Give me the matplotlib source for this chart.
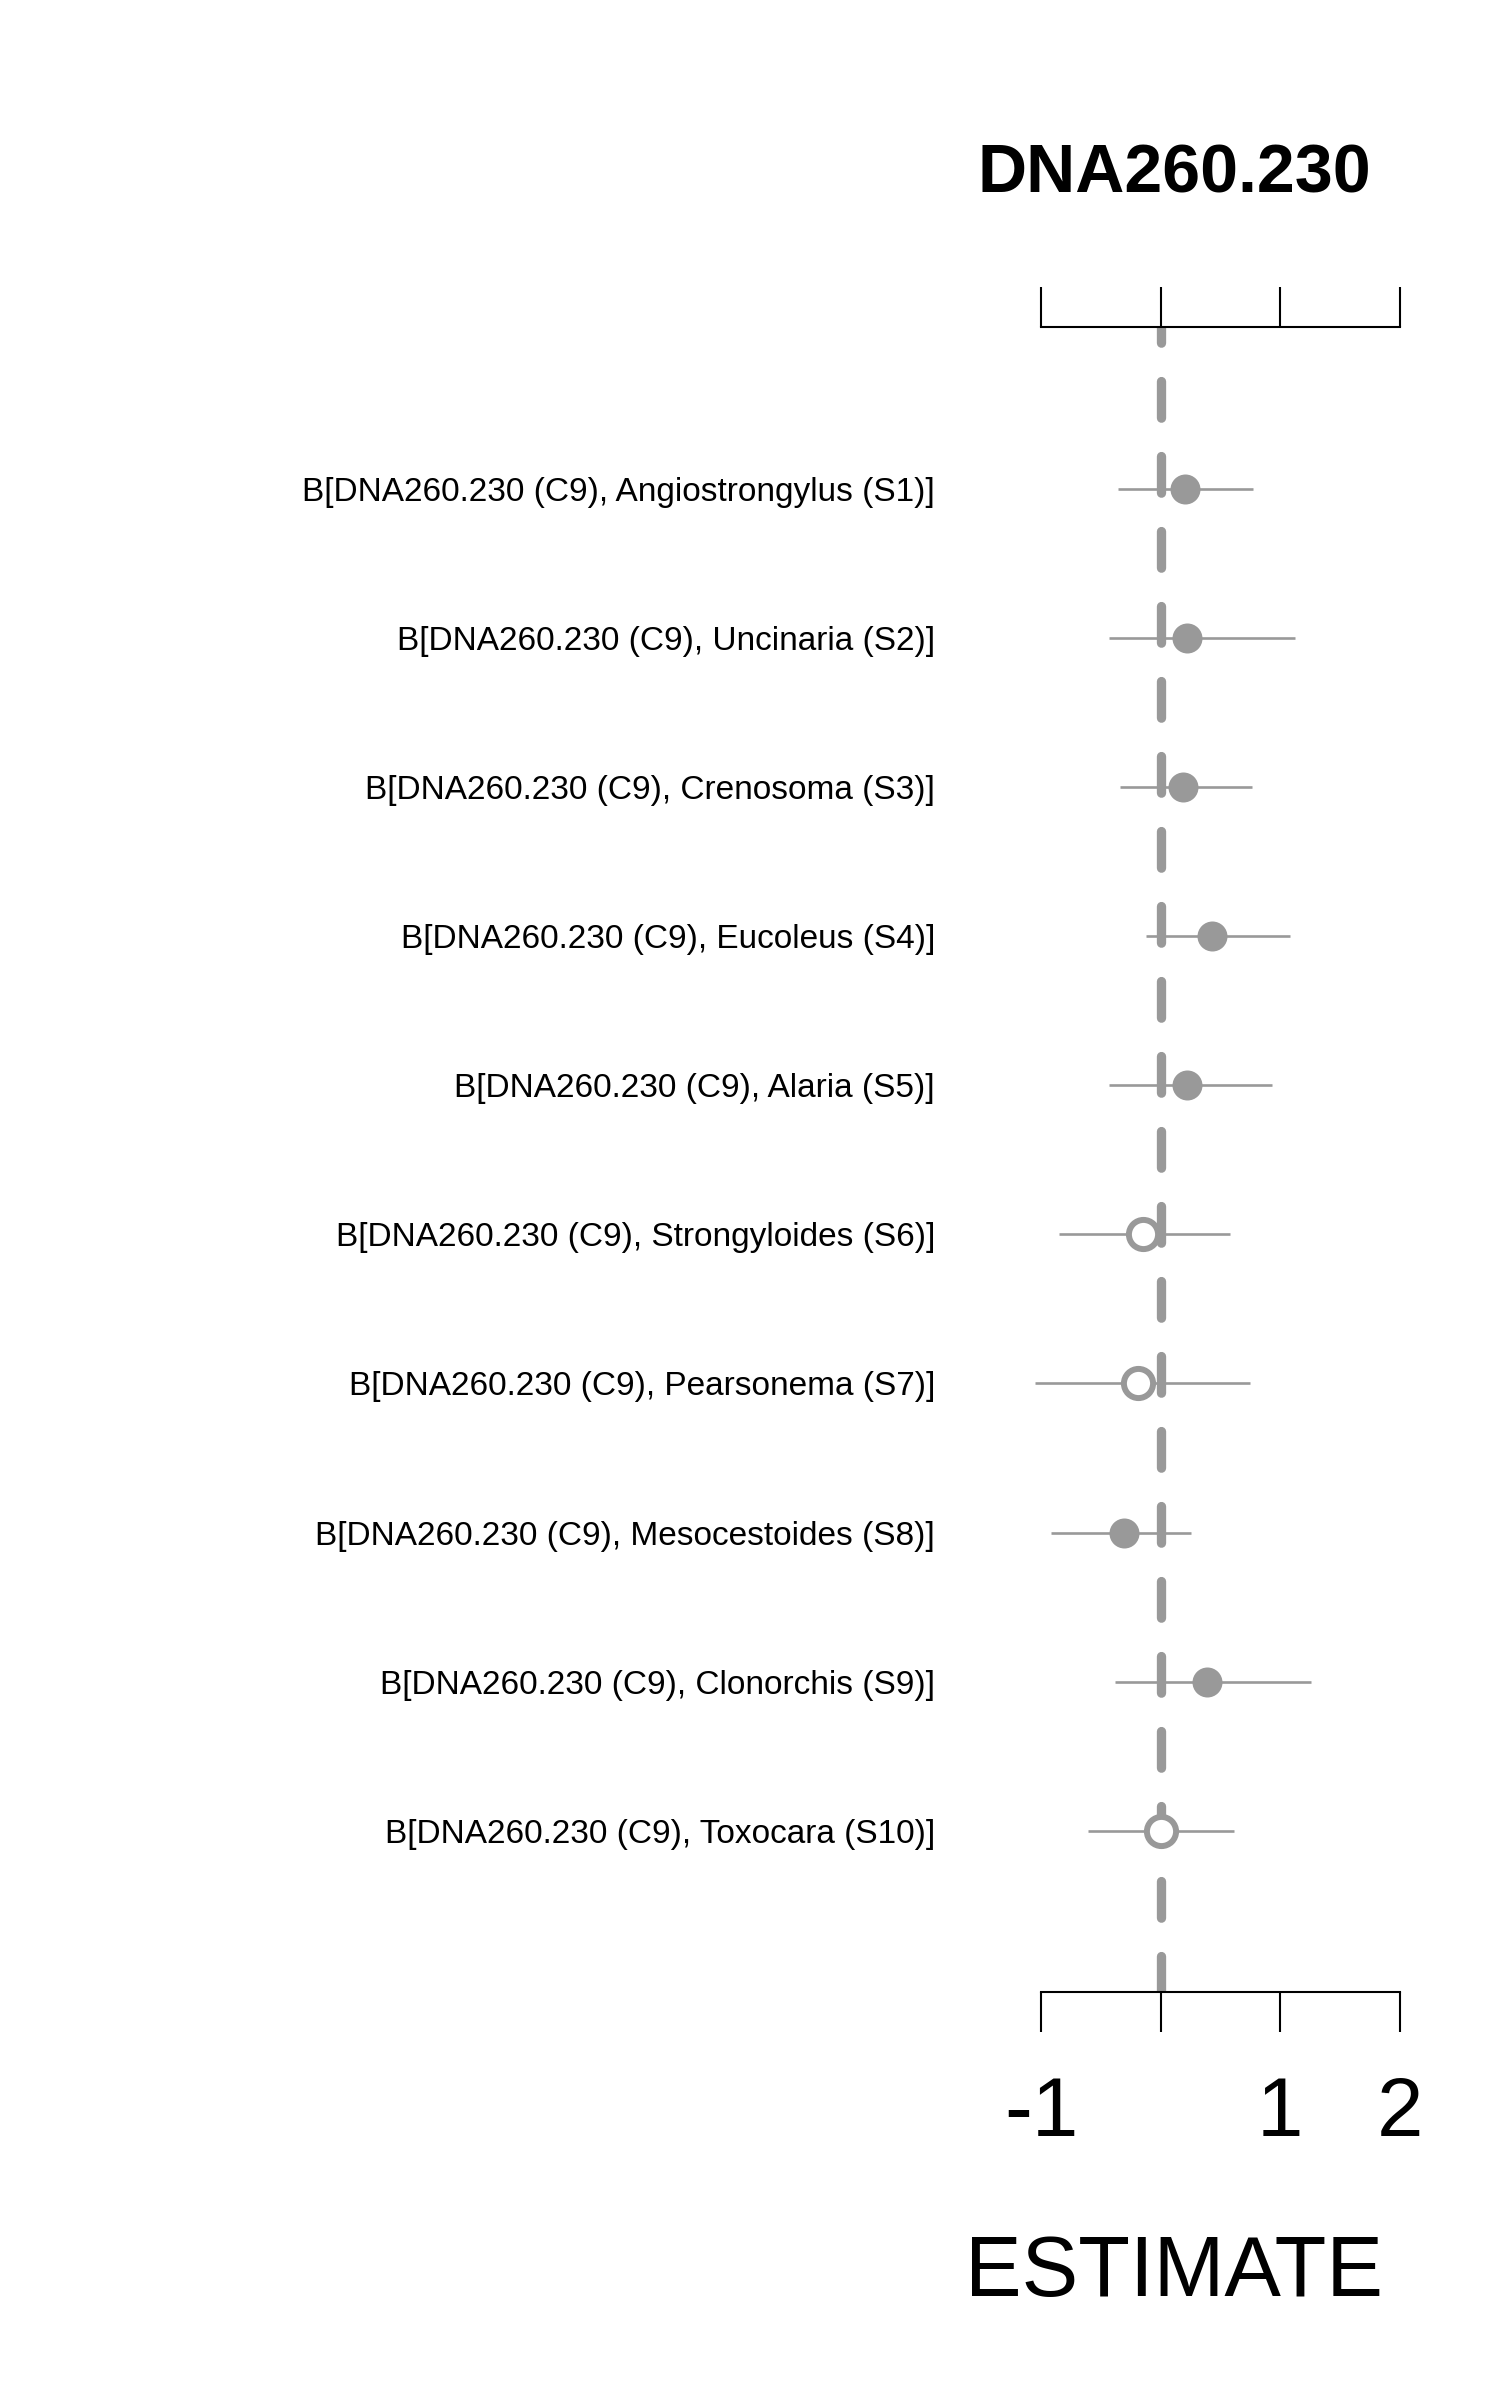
import matplotlib
matplotlib.use("Agg")
import matplotlib.pyplot as plt

# %%

# coefficient estimates for DNA260.230 (C9) on each species

species = [
    "Angiostrongylus (S1)",
    "Uncinaria (S2)",
    "Crenosoma (S3)",
    "Eucoleus (S4)",
    "Alaria (S5)",
    "Strongyloides (S6)",
    "Pearsonema (S7)",
    "Mesocestoides (S8)",
    "Clonorchis (S9)",
    "Toxocara (S10)",
]
labels = [f"B[DNA260.230 (C9), {s}]" for s in species]

estimate = [0.20, 0.22, 0.19, 0.43, 0.22, -0.15, -0.19, -0.31, 0.39, 0.00]
lower = [-0.36, -0.43, -0.34, -0.12, -0.43, -0.85, -1.05, -0.92, -0.38, -0.61]
upper = [0.77, 1.12, 0.76, 1.08, 0.93, 0.58, 0.75, 0.25, 1.26, 0.61]
filled = [True, True, True, True, True, False, False, True, True, False]

x_ticks = [-1, 0, 1, 2]
x_tick_labels = ["-1", "", "1", "2"]

title = "DNA260.230"
x_label = "ESTIMATE"

# %%

plt.rcParams["font.family"] = ["Liberation Sans", "DejaVu Sans"]
plt.rcParams["lines.scale_dashes"] = False

grey = "#999999"
rows = list(range(1, len(labels) + 1))

fig = plt.figure(figsize=(15, 24), dpi=100)
ax = fig.add_axes([0.68602, 0.17013, 0.25528, 0.69375])

# zero reference line
ax.plot(
    [0, 0],
    [-0.089, 11.08],
    color=grey,
    linewidth=6.7,
    linestyle=(15.1, (26.4, 27.6)),
    dash_capstyle="round",
    zorder=1,
)

ax.hlines(rows, lower, upper, color=grey, linewidth=1.9, zorder=2)

for y, est, full in zip(rows, estimate, filled):
    if full:
        ax.plot(est, y, "o", color=grey, markersize=21.6, markeredgewidth=0, zorder=3)
    else:
        ax.plot(
            est,
            y,
            "o",
            markerfacecolor="white",
            markeredgecolor=grey,
            markersize=21,
            markeredgewidth=4.3,
            zorder=3,
        )

ax.set_xlim(-1.1, 2.1)
ax.set_ylim(11.08, -0.089)

ax.set_xticks(x_ticks, x_tick_labels)
ax.set_yticks(rows, labels)

for side in ["left", "right"]:
    ax.spines[side].set_visible(False)
for side in ["top", "bottom"]:
    ax.spines[side].set_bounds(-1, 2)
    ax.spines[side].set_linewidth(1.5)

ax.tick_params(
    axis="x",
    top=True,
    bottom=True,
    labeltop=False,
    direction="out",
    length=28.8,
    width=1.5,
    labelsize=60,
    pad=31,
)
ax.tick_params(axis="y", length=0, labelsize=24, pad=67.7)

fig.text(0.783, 0.9196, title, ha="center", va="baseline", fontsize=49, fontweight="bold")
fig.text(0.783, 0.0433, x_label, ha="center", va="baseline", fontsize=61)

fig.savefig("out.png", dpi=100)
